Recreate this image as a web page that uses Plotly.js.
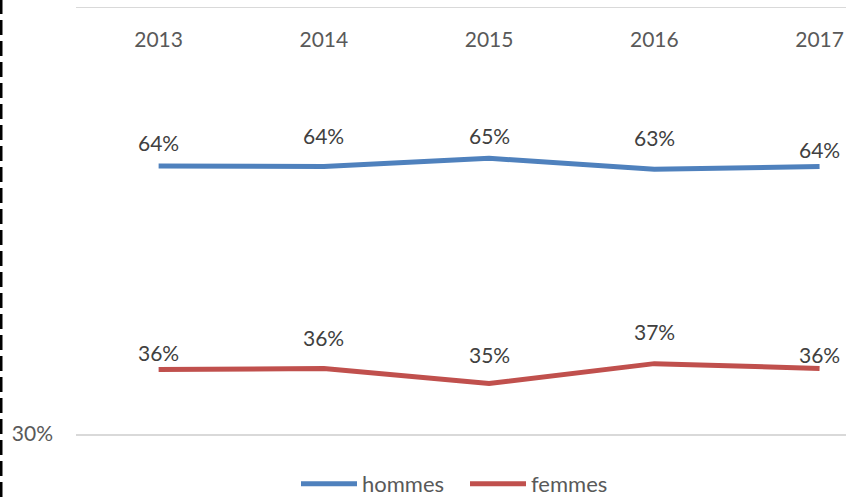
<!DOCTYPE html>
<html>
<head>
<meta charset="utf-8">
<script src="https://cdn.plot.ly/plotly-3.0.1.min.js"></script>
<style>
  html, body { margin: 0; padding: 0; background: #ffffff; }
  #chart { width: 846px; height: 497px; }
</style>
</head>
<body>
<div id="chart"></div>
<script>
// ---- data ----
var years = ["2013", "2014", "2015", "2016", "2017"];
var hommes = [0.640, 0.639, 0.654, 0.634, 0.639];
var femmes = [0.360, 0.361, 0.346, 0.366, 0.361];
var seriesNames = ["hommes", "femmes"];
var yTickValues = [0.30];

// ---- styling ----
var colors = ["#4F81BD", "#C0504D"];
var labelShiftH = [23, 31, 23, 32, 17];
var labelShiftF = [17, 31, 29, 32, 14];
var fontFamily = "Lato, 'Open Sans', sans-serif";

function pct(v) { return Math.round(v * 100) + "%"; }

var traces = [
  { x: years, y: hommes, name: seriesNames[0], type: "scatter", mode: "lines",
    line: { color: colors[0], width: 5 }, hoverinfo: "skip" },
  { x: years, y: femmes, name: seriesNames[1], type: "scatter", mode: "lines",
    line: { color: colors[1], width: 5 }, hoverinfo: "skip" }
];

var annotations = [];
years.forEach(function (yr, i) {
  annotations.push({ x: i, y: Math.log10(hommes[i]), xref: "x", yref: "y",
    text: pct(hommes[i]), showarrow: false, yshift: labelShiftH[i],
    font: { family: fontFamily, size: 21, color: "#404040" } });
  annotations.push({ x: i, y: Math.log10(femmes[i]), xref: "x", yref: "y",
    text: pct(femmes[i]), showarrow: false, yshift: labelShiftF[i],
    font: { family: fontFamily, size: 21, color: "#404040" } });
});

var layout = {
  width: 846, height: 497,
  margin: { l: 76, r: 0, t: 8, b: 63, autoexpand: false },
  paper_bgcolor: "#ffffff", plot_bgcolor: "#ffffff",
  font: { family: fontFamily, size: 21, color: "#595959" },
  showlegend: true,
  legend: { orientation: "h", x: (296 - 76) / 770, xanchor: "left", y: -0.068, yanchor: "top",
    itemwidth: 56, entrywidth: 98, entrywidthmode: "pixels",
    font: { family: fontFamily, size: 22, color: "#595959" } },
  xaxis: {
    type: "category", side: "top", range: [-0.5, 4.16],
    showline: true, mirror: true, linecolor: "#d9d9d9", linewidth: 1.5,
    showgrid: false, ticks: "", ticklabelposition: "inside",
    ticklabelstandoff: 26,
    tickfont: { family: fontFamily, size: 21, color: "#595959" }
  },
  yaxis: {
    type: "log", range: [Math.log10(0.3), 0],
    tickvals: yTickValues, tickformat: ".0%",
    showgrid: true, gridcolor: "#d9d9d9", gridwidth: 1.5,
    showline: false, zeroline: false, ticks: "",
    ticklabelstandoff: 22,
    tickfont: { family: fontFamily, size: 21, color: "#595959" }
  },
  annotations: annotations,
  shapes: [
    { type: "line", xref: "paper", yref: "paper",
      x0: -75 / 770, x1: -75 / 770, y0: -63 / 426, y1: 434 / 426 + 0.02,
      line: { color: "#000000", width: 3, dash: "15px,6px" } }
  ]
};

Plotly.newPlot("chart", traces, layout, { displayModeBar: false, staticPlot: true }).then(function () {
  document.querySelectorAll(".legendlines path").forEach(function (p) {
    p.setAttribute("d", "M5,0h56");
  });
});
</script>
</body>
</html>
